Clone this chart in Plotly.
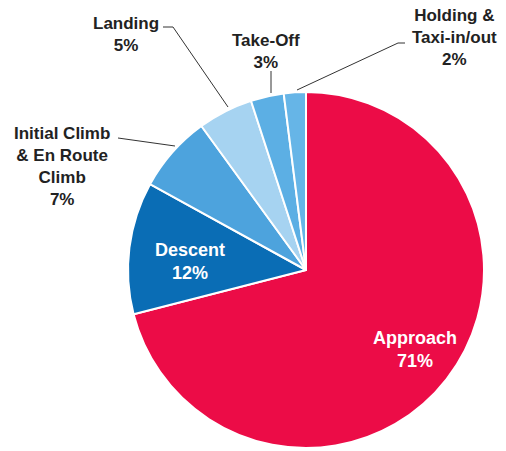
import plotly.graph_objects as go

# Share of accidents by flight phase
phases = ["Approach", "Descent", "Initial Climb<br>& En Route<br>Climb", "Landing",
          "Take-Off", "Holding &<br>Taxi-in/out"]
shares = [71, 12, 7, 5, 3, 2]
colors = ["#ec0c47", "#0a6db5", "#4da3dd", "#a6d3f1", "#5cafe4", "#66b5e7"]

W, H = 506, 451


def px(x):
    return x / W


def py(y):
    return 1 - y / H


fig = go.Figure(go.Pie(
    labels=phases,
    values=shares,
    sort=False,
    direction="clockwise",
    rotation=0,
    textinfo="none",
    hoverinfo="label+percent",
    marker=dict(colors=colors, line=dict(color="white", width=2)),
    domain=dict(x=[px(128), px(484)], y=[py(448), py(92)]),
    showlegend=False,
))

font_out = dict(family="Liberation Sans, Arial, sans-serif", size=17, color="#222222")
font_in = dict(family="Liberation Sans, Arial, sans-serif", size=18, color="white")

# Label placement for each slice: (x, y, inside?)
label_pos = [
    (415, 349, True),
    (190, 261, True),
    (62, 166, False),
    (126, 34, False),
    (266, 52, False),
    (454, 37, False),
]

annotations = []
for name, val, (x, y, inside) in zip(phases, shares, label_pos):
    annotations.append(dict(
        x=px(x), y=py(y), xref="paper", yref="paper",
        text=f"<b>{name}<br>{val}%</b>",
        showarrow=False, align="center",
        xanchor="center", yanchor="middle",
        font=font_in if inside else font_out,
    ))

# Leader lines from outside labels to their slices
leaders = [
    [(118, 138), (175, 146)],
    [(163, 27), (173, 27), (228, 107)],
    [(271, 71), (271, 93)],
    [(405, 43), (398, 43), (297, 90)],
]
shapes = []
for pts in leaders:
    path = "M " + " L ".join(f"{px(x)},{py(y)}" for x, y in pts)
    shapes.append(dict(type="path", path=path, xref="paper", yref="paper",
                       line=dict(color="#333333", width=1)))

fig.update_layout(
    width=W, height=H,
    margin=dict(l=0, r=0, t=0, b=0),
    paper_bgcolor="white",
    plot_bgcolor="white",
    annotations=annotations,
    shapes=shapes,
)

fig.write_html("out.html", config={"displayModeBar": False})
